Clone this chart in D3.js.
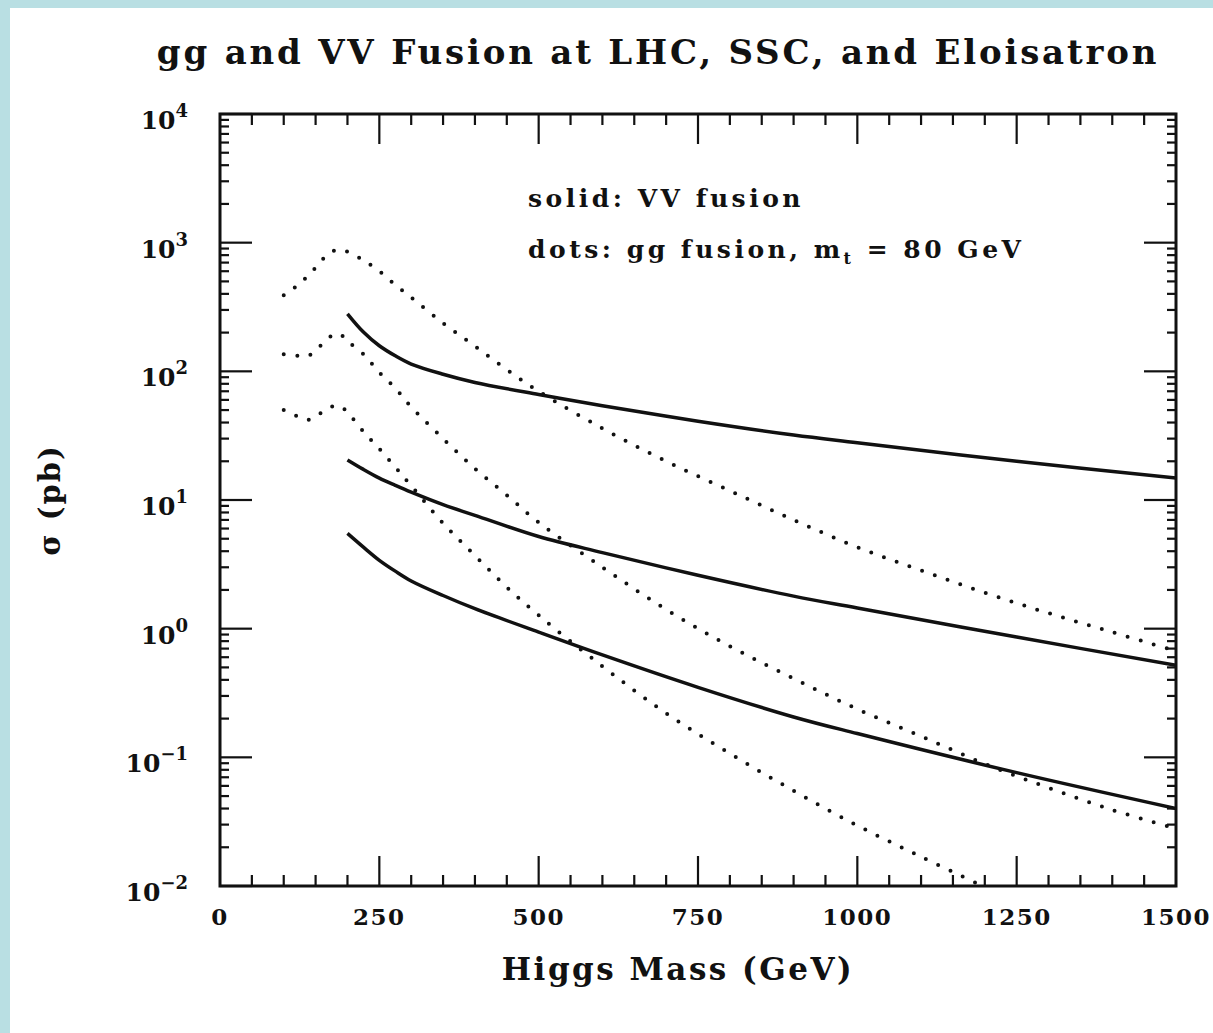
<!DOCTYPE html>
<html>
<head>
<meta charset="utf-8">
<script src="https://cdn.jsdelivr.net/npm/d3@7"></script>
<style>
  html, body { margin: 0; padding: 0; background: #b9dfe3; }
  #chart { position: absolute; left: 10px; top: 8px; }
  text { font-family: "DejaVu Serif", serif; font-weight: bold; fill: #111; }
</style>
</head>
<body>
<div id="chart"></div>
<script>
// Higgs masses (GeV) and cross sections (pb)
var solidMass = [200, 225, 250, 275, 300, 350, 400, 500, 600, 750, 900, 1000, 1250, 1500];
var solidTop = [280, 202, 158, 132, 114, 95, 82, 66, 54, 41, 32, 27.9, 20, 14.8];
var solidMid = [20.5, 17.3, 14.8, 13, 11.5, 9.2, 7.6, 5.2, 3.9, 2.6, 1.79, 1.45, 0.86, 0.52];
var solidLow = [5.5, 4.3, 3.4, 2.8, 2.35, 1.81, 1.43, 0.94, 0.625, 0.35, 0.206, 0.153, 0.076, 0.040];

var dotsTopMass = [100, 125, 150, 170, 185, 200, 225, 250, 275, 300, 350, 400, 450, 500, 600, 700, 800, 900, 1000, 1100, 1200, 1300, 1400, 1500];
var dotsTop = [390, 480, 640, 820, 880, 850, 730, 600, 470, 375, 237, 157, 103, 70, 36, 20, 11.8, 7.0, 4.3, 2.84, 1.9, 1.32, 0.94, 0.67];

var dotsMidMass = [100, 125, 140, 160, 180, 190, 200, 225, 250, 275, 300, 350, 400, 450, 500, 600, 700, 800, 900, 1000, 1100, 1200, 1300, 1400, 1500];
var dotsMid = [136, 132, 133, 162, 195, 192, 172, 136, 98, 74, 53, 30, 17.5, 10.9, 6.7, 3.0, 1.41, 0.73, 0.41, 0.237, 0.146, 0.089, 0.058, 0.039, 0.028];

var dotsLowMass = [100, 125, 140, 160, 180, 190, 200, 225, 250, 275, 300, 350, 400, 450, 500, 600, 700, 800, 900, 1000, 1100, 1200];
var dotsLow = [50, 44, 42, 48, 54, 53, 48, 34, 25, 18, 12.9, 6.6, 3.7, 2.1, 1.27, 0.51, 0.22, 0.107, 0.055, 0.0295, 0.0169, 0.0098];

var xMajorTicks = [0, 250, 500, 750, 1000, 1250, 1500];
var yExponents = [4, 3, 2, 1, 0, -1, -2];

var titleText = "gg and VV Fusion at LHC, SSC, and Eloisatron";
var xTitle = "Higgs Mass (GeV)";
var yTitle = "\u03c3 (pb)";

var width = 1203, height = 1025;
var plotLeft = 210, plotRight = 1166, plotTop = 106, plotBottom = 878;

var svg = d3.select("#chart").append("svg")
    .attr("width", width)
    .attr("height", height)
    .style("background", "#fff")
    .style("display", "block");

var x = d3.scaleLinear([0, 1500], [plotLeft, plotRight]);
var y = d3.scaleLog([1e-2, 1e4], [plotBottom, plotTop]);

svg.append("clipPath").attr("id", "plotArea")
  .append("rect")
    .attr("x", plotLeft).attr("y", plotTop)
    .attr("width", plotRight - plotLeft).attr("height", plotBottom - plotTop);

// ticks, all pointing inward on every side
var ticks = svg.append("g").attr("stroke", "#111").attr("stroke-width", 2.2);
d3.range(50, 1500, 50).forEach(function(m) {
    var len = m % 250 === 0 ? 30 : 11;
    ticks.append("line").attr("x1", x(m)).attr("x2", x(m)).attr("y1", plotBottom).attr("y2", plotBottom - len);
    ticks.append("line").attr("x1", x(m)).attr("x2", x(m)).attr("y1", plotTop).attr("y2", plotTop + len);
});
var yMinor = [];
d3.range(-2, 4).forEach(function(e) {
    d3.range(2, 10).forEach(function(k) { yMinor.push(k * Math.pow(10, e)); });
});
yMinor.forEach(function(v) {
    ticks.append("line").attr("x1", plotLeft).attr("x2", plotLeft + 9).attr("y1", y(v)).attr("y2", y(v));
    ticks.append("line").attr("x1", plotRight).attr("x2", plotRight - 9).attr("y1", y(v)).attr("y2", y(v));
});
yExponents.forEach(function(e) {
    var v = Math.pow(10, e);
    ticks.append("line").attr("x1", plotLeft).attr("x2", plotLeft + 32).attr("y1", y(v)).attr("y2", y(v));
    ticks.append("line").attr("x1", plotRight).attr("x2", plotRight - 32).attr("y1", y(v)).attr("y2", y(v));
});

svg.append("rect")
    .attr("x", plotLeft).attr("y", plotTop)
    .attr("width", plotRight - plotLeft).attr("height", plotBottom - plotTop)
    .attr("fill", "none").attr("stroke", "#111").attr("stroke-width", 3);

// tick labels
svg.append("g").selectAll("text")
  .data(xMajorTicks)
  .join("text")
    .attr("x", d => x(d))
    .attr("y", plotBottom + 39)
    .attr("text-anchor", "middle")
    .attr("font-size", 23)
    .attr("letter-spacing", 1.5)
    .text(d => d);

var yLab = svg.append("g").selectAll("text")
  .data(yExponents)
  .join("text")
    .attr("x", 178)
    .attr("y", d => y(Math.pow(10, d)) + 15)
    .attr("text-anchor", "end")
    .attr("font-size", 25);
yLab.append("tspan").text("10");
yLab.append("tspan")
    .attr("font-size", 18)
    .attr("dy", -12)
    .text(d => d < 0 ? "\u2212" + (-d) : d);

// curves
var line = d3.line()
    .x(d => x(d[0]))
    .y(d => y(d[1]))
    .curve(d3.curveCatmullRom.alpha(0.5));

var curves = svg.append("g").attr("clip-path", "url(#plotArea)").attr("fill", "none").attr("stroke", "#111");

[solidTop, solidMid, solidLow].forEach(function(vals) {
    curves.append("path")
        .attr("d", line(d3.zip(solidMass, vals)))
        .attr("stroke-width", 3.5);
});

[[dotsTopMass, dotsTop], [dotsMidMass, dotsMid], [dotsLowMass, dotsLow]].forEach(function(s) {
    curves.append("path")
        .attr("d", line(d3.zip(s[0], s[1])))
        .attr("stroke-width", 4)
        .attr("stroke-linecap", "round")
        .attr("stroke-dasharray", "0 13.5");
});

// legend
svg.append("text")
    .attr("x", 518).attr("y", 199)
    .attr("font-size", 25)
    .attr("letter-spacing", 3.5)
    .text("solid: VV fusion");
var leg2 = svg.append("text")
    .attr("x", 518).attr("y", 250)
    .attr("font-size", 25)
    .attr("letter-spacing", 3.5);
leg2.append("tspan").text("dots: gg fusion, m");
leg2.append("tspan").attr("font-size", 16).attr("dy", 6).text("t");
leg2.append("tspan").attr("dy", -6).text(" = 80 GeV");

// titles
svg.append("text")
    .attr("x", 648).attr("y", 56)
    .attr("text-anchor", "middle")
    .attr("font-size", 34)
    .attr("letter-spacing", 2.8)
    .text(titleText);

svg.append("text")
    .attr("x", 668).attr("y", 972)
    .attr("text-anchor", "middle")
    .attr("font-size", 31)
    .attr("letter-spacing", 2.5)
    .text(xTitle);

svg.append("text")
    .attr("transform", "translate(50," + 492 + ") rotate(-90)")
    .attr("text-anchor", "middle")
    .attr("font-size", 29)
    .attr("letter-spacing", 2)
    .text(yTitle);
</script>
</body>
</html>
